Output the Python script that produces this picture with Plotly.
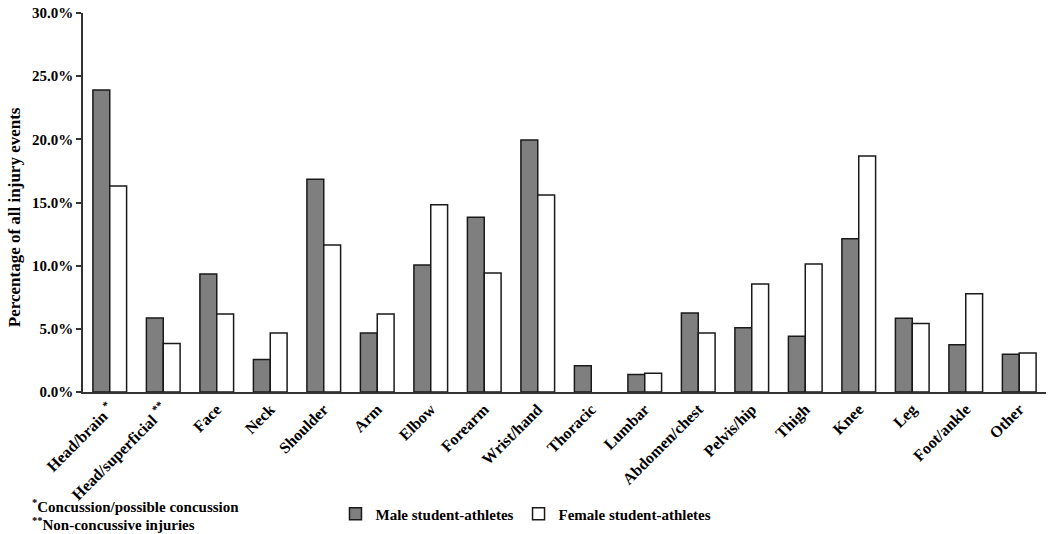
import plotly.graph_objects as go

categories = ["Head/brain <sup>*</sup>", "Head/superficial <sup>**</sup>", "Face", "Neck", "Shoulder", "Arm",
              "Elbow", "Forearm", "Wrist/hand", "Thoracic", "Lumbar", "Abdomen/chest",
              "Pelvis/hip", "Thigh", "Knee", "Leg", "Foot/ankle", "Other"]
male = [23.9, 5.85, 9.35, 2.57, 16.85, 4.67, 10.06, 13.83, 19.95, 2.07, 1.38, 6.25,
        5.09, 4.41, 12.14, 5.83, 3.75, 2.98]
female = [16.3, 3.83, 6.17, 4.67, 11.64, 6.17, 14.82, 9.41, 15.59, None, 1.49, 4.67,
          8.54, 10.14, 18.69, 5.43, 7.78, 3.09]
yticks = [0, 5, 10, 15, 20, 25, 30]

FONT = "Liberation Serif"

fig = go.Figure()
fig.add_trace(go.Bar(x=categories, y=male, name="<b>Male student-athletes</b>",
                     marker=dict(color="#7f7f7f", line=dict(color="#1a1a1a", width=1.5))))
fig.add_trace(go.Bar(x=categories, y=female, name="<b>Female student-athletes</b>",
                     marker=dict(color="#ffffff", line=dict(color="#1a1a1a", width=1.5))))

fig.update_layout(
    width=1050, height=534,
    margin=dict(l=83, r=4, t=13, b=140),
    plot_bgcolor="white", paper_bgcolor="white",
    barmode="group", bargap=0.37, bargroupgap=0,
    font=dict(family=FONT, size=15, color="black"),
    showlegend=True,
    legend=dict(orientation="h", x=0.46, xanchor="center", y=-0.322, yanchor="middle",
                font=dict(family=FONT, size=15), traceorder="normal"),
    xaxis=dict(
        showline=True, linecolor="#333333", linewidth=1.5,
        ticks="", tickangle=-45, automargin=False,
        tickfont=dict(family=FONT, size=16, weight="bold"),
    ),
    yaxis=dict(
        range=[0, 30], tickvals=yticks, ticktext=[f"{v:.1f}%" for v in yticks],
        showline=True, linecolor="#333333", linewidth=1.5,
        ticks="outside", ticklen=5, tickcolor="#333333", tickwidth=1.5,
        showgrid=False, zeroline=False, automargin=False,
        tickfont=dict(family=FONT, size=15, weight="bold"),
    ),
)

fig.add_annotation(text="<b>Percentage of all injury events</b>", xref="paper", yref="paper",
                   x=-0.0717, y=0.461, xanchor="center", yanchor="middle", textangle=-90,
                   showarrow=False, font=dict(family=FONT, size=17))
fig.add_annotation(text="<b><sup>*</sup>Concussion/possible concussion</b>", xref="paper", yref="paper",
                   x=-0.055, y=-0.30, xanchor="left", yanchor="middle", showarrow=False,
                   font=dict(family=FONT, size=15))
fig.add_annotation(text="<b><sup>**</sup>Non-concussive injuries</b>", xref="paper", yref="paper",
                   x=-0.055, y=-0.348, xanchor="left", yanchor="middle", showarrow=False,
                   font=dict(family=FONT, size=15))

fig.write_html("out.html", config={"displayModeBar": False},
               post_script="document.body.style.margin='0px';")
